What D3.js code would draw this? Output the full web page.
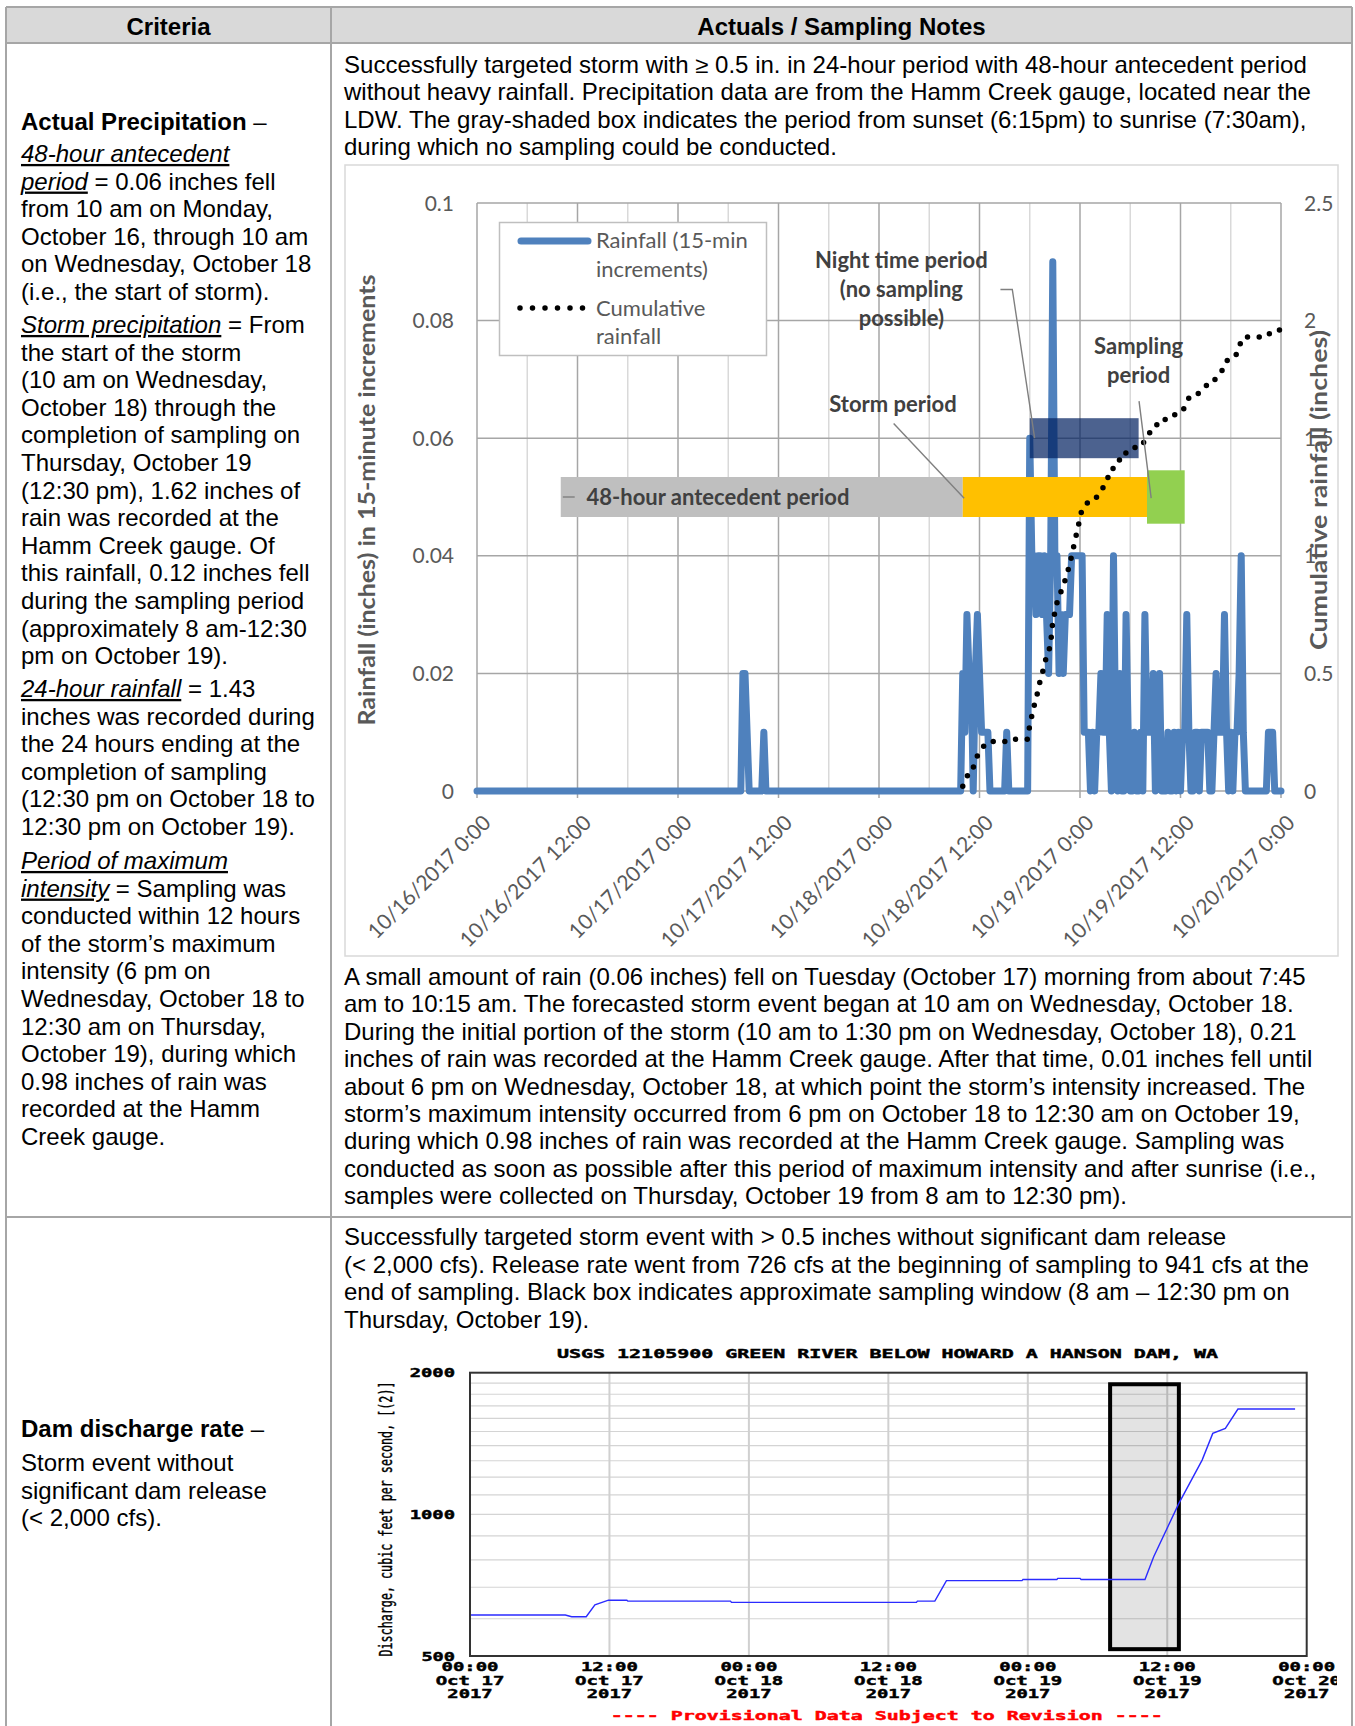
<!DOCTYPE html>
<html>
<head>
<meta charset="utf-8">
<script src="https://cdn.jsdelivr.net/npm/d3@7"></script>
<style>
  html, body { margin: 0; padding: 0; background: #fff; }
  svg { display: block; }
  text { white-space: pre; }
</style>
</head>
<body>
<svg id="page" width="1355" height="1726"></svg>
<script>
// ---------------- Rainfall chart (Hamm Creek gauge) ----------------
const rainXTickLabels = ["10/16/2017 0:00", "10/16/2017 12:00", "10/17/2017 0:00", "10/17/2017 12:00",
  "10/18/2017 0:00", "10/18/2017 12:00", "10/19/2017 0:00", "10/19/2017 12:00", "10/20/2017 0:00"];
const rainLeftTicks = [0, 0.02, 0.04, 0.06, 0.08, 0.1];
const rainLeftLabels = ["0", "0.02", "0.04", "0.06", "0.08", "0.1"];
const cumRightTicks = [0, 0.5, 1, 1.5, 2, 2.5];
const cumRightLabels = ["0", "0.5", "1", "1.5", "2", "2.5"];

// 15-minute rainfall totals (inches); the gauge reads 0 outside these windows
const tuesdayStart = "2017-10-17T07:30";
const tuesdayRain = [0, 0.02, 0.02, 0.01, 0, 0, 0, 0, 0, 0, 0, 0.01, 0];

const stormStart = "2017-10-18T09:45";
const stormRain = [
  0,
  0.02, 0.01, 0.03, 0.02,   // 10/18 10:00
  0.02, 0, 0.02, 0.03,      // 11:00
  0.02, 0.01, 0.01, 0.01,   // 12:00
  0.01, 0, 0, 0,            // 13:00
  0, 0, 0, 0,               // 14:00
  0, 0.01, 0, 0,            // 15:00
  0, 0, 0, 0,               // 16:00
  0, 0, 0, 0,               // 17:00
  0.06, 0.04, 0.04, 0.03,   // 18:00
  0.04, 0.04, 0.03, 0.04,   // 19:00
  0.03, 0.02, 0.04, 0.09,   // 20:00
  0.04, 0.04, 0.02, 0.03,   // 21:00
  0.02, 0.03, 0.03, 0.03,   // 22:00
  0.04, 0.04, 0.04, 0.04,   // 23:00
  0.04, 0.04, 0.01, 0.01,   // 10/19 0:00
  0.01, 0, 0.01, 0,         // 1:00
  0.01, 0.01, 0.02, 0.01,   // 2:00
  0.01, 0.03, 0.01, 0,      // 3:00
  0.04, 0.01, 0, 0.02,      // 4:00
  0, 0, 0.03, 0.01,         // 5:00
  0, 0, 0.01, 0,            // 6:00
  0, 0.01, 0, 0.03,         // 7:00
  0.01, 0.01, 0.01, 0.02,   // 8:00
  0, 0.01, 0.02, 0,         // 9:00
  0, 0, 0.01, 0,            // 10:00
  0, 0.01, 0, 0.01,         // 11:00
  0, 0.01, 0.01, 0.03,      // 12:00
  0.01, 0, 0, 0.01,         // 13:00
  0.01, 0, 0.01, 0.01,      // 14:00
  0.01, 0.01, 0, 0,         // 15:00
  0.01, 0.02, 0.01, 0.01,   // 16:00
  0.01, 0.03, 0.01, 0,      // 17:00
  0.01, 0, 0.01, 0.01,      // 18:00
  0.02, 0.04, 0.01, 0,      // 19:00
  0, 0, 0, 0,               // 20:00
  0, 0, 0, 0,               // 21:00
  0, 0, 0.01, 0.01,         // 22:00
  0.01, 0, 0, 0,            // 23:00
  0                         // 10/20 0:00
];
// cumulative storm rainfall is counted from the start of the storm
const cumulativeFrom = "2017-10-18T10:00";

// shaded periods
const periodNames = ["48-hour antecedent period", "Storm period", "Sampling period", "Night time period"];
const periodStart = ["2017-10-16T10:00", "2017-10-18T10:00", "2017-10-19T08:00", "2017-10-18T18:00"];
const periodEnd = ["2017-10-18T10:00", "2017-10-19T08:00", "2017-10-19T12:30", "2017-10-19T07:00"];
const periodLevel = [0.05, 0.05, 0.05, 0.06];

// ---------------- Dam discharge chart (USGS 12105900) ----------------
const usgsTitle = "USGS 12105900 GREEN RIVER BELOW HOWARD A HANSON DAM, WA";
const usgsYTitle = "Discharge, cubic feet per second, [(2)]";
const usgsFooter = "---- Provisional Data Subject to Revision ----";
const usgsYTicks = [500, 1000, 2000];
const usgsYLabels = ["500", "1000", "2000"];
const usgsXTicks = ["2017-10-17T00:00", "2017-10-17T12:00", "2017-10-18T00:00", "2017-10-18T12:00",
  "2017-10-19T00:00", "2017-10-19T12:00", "2017-10-20T00:00"];
const usgsXLabels = [["00:00", "Oct 17", "2017"], ["12:00", "Oct 17", "2017"], ["00:00", "Oct 18", "2017"],
  ["12:00", "Oct 18", "2017"], ["00:00", "Oct 19", "2017"], ["12:00", "Oct 19", "2017"], ["00:00", "Oct 20", "2017"]];
const usgsGridCfs = [600, 700, 800, 900, 1000, 1100, 1200, 1300, 1400, 1500, 1600, 1700, 1800, 1900];
const flowTimes = ["2017-10-17T00:00", "2017-10-17T08:12", "2017-10-17T08:45", "2017-10-17T10:00",
  "2017-10-17T10:45", "2017-10-17T11:55", "2017-10-17T13:30", "2017-10-17T13:35", "2017-10-17T22:25",
  "2017-10-17T22:30", "2017-10-18T14:25", "2017-10-18T14:30", "2017-10-18T16:00", "2017-10-18T17:00",
  "2017-10-18T23:30", "2017-10-18T23:35", "2017-10-19T02:30", "2017-10-19T02:35", "2017-10-19T04:30",
  "2017-10-19T04:35", "2017-10-19T10:05", "2017-10-19T10:50", "2017-10-19T13:00", "2017-10-19T15:00",
  "2017-10-19T15:55", "2017-10-19T17:00", "2017-10-19T18:05", "2017-10-19T23:00"];
const flowCfs = [611, 611, 606, 606, 642, 657, 657, 654, 654, 650, 650, 654, 654, 723, 723, 727, 727,
  731, 731, 727, 727, 813, 1055, 1304, 1486, 1523, 1674, 1674];
const samplingWindow = ["2017-10-19T07:05", "2017-10-19T13:00"];
const samplingWindowCfs = [517, 1890];

// ---------------- Table text ----------------
const criteriaRain = [
  ["*Actual Precipitation* –"],
  ["_48-hour antecedent_", "_period_ = 0.06 inches fell", "from 10 am on Monday,", "October 16, through 10 am",
   "on Wednesday, October 18", "(i.e., the start of storm)."],
  ["_Storm precipitation_ = From", "the start of the storm", "(10 am on Wednesday,", "October 18) through the",
   "completion of sampling on", "Thursday, October 19", "(12:30 pm), 1.62 inches of", "rain was recorded at the",
   "Hamm Creek gauge. Of", "this rainfall, 0.12 inches fell", "during the sampling period",
   "(approximately 8 am-12:30", "pm on October 19)."],
  ["_24-hour rainfall_ = 1.43", "inches was recorded during", "the 24 hours ending at the",
   "completion of sampling", "(12:30 pm on October 18 to", "12:30 pm on October 19)."],
  ["_Period of maximum_", "_intensity_ = Sampling was", "conducted within 12 hours", "of the storm’s maximum",
   "intensity (6 pm on", "Wednesday, October 18 to", "12:30 am on Thursday,", "October 19), during which",
   "0.98 inches of rain was", "recorded at the Hamm", "Creek gauge."]
];
const criteriaRainTop = [130, 162, 333, 697, 869];
const criteriaDam = [["*Dam discharge rate* –"], ["Storm event without", "significant dam release", "(< 2,000 cfs)."]];
const criteriaDamTop = [1437, 1471];

const notesRainTop = ["Successfully targeted storm with ≥ 0.5 in. in 24-hour period with 48-hour antecedent period",
  "without heavy rainfall. Precipitation data are from the Hamm Creek gauge, located near the",
  "LDW. The gray-shaded box indicates the period from sunset (6:15pm) to sunrise (7:30am),",
  "during which no sampling could be conducted."];
const notesRainBottom = ["A small amount of rain (0.06 inches) fell on Tuesday (October 17) morning from about 7:45",
  "am to 10:15 am. The forecasted storm event began at 10 am on Wednesday, October 18.",
  "During the initial portion of the storm (10 am to 1:30 pm on Wednesday, October 18), 0.21",
  "inches of rain was recorded at the Hamm Creek gauge. After that time, 0.01 inches fell until",
  "about 6 pm on Wednesday, October 18, at which point the storm’s intensity increased. The",
  "storm’s maximum intensity occurred from 6 pm on October 18 to 12:30 am on October 19,",
  "during which 0.98 inches of rain was recorded at the Hamm Creek gauge. Sampling was",
  "conducted as soon as possible after this period of maximum intensity and after sunrise (i.e.,",
  "samples were collected on Thursday, October 19 from 8 am to 12:30 pm)."];
const notesDam = ["Successfully targeted storm event with > 0.5 inches without significant dam release",
  "(< 2,000 cfs). Release rate went from 726 cfs at the beginning of sampling to 941 cfs at the",
  "end of sampling. Black box indicates approximate sampling window (8 am – 12:30 pm on",
  "Thursday, October 19)."];

// =====================================================================
const svg = d3.select("#page");
const parseT = d3.timeParse("%Y-%m-%dT%H:%M");
const FONT_T = "'Liberation Sans', Arial, sans-serif";
const FONT_C = "Lato, 'Open Sans', sans-serif";
const FONT_U = "'DejaVu Sans Mono', 'Liberation Mono', monospace";
const SX = 1.045;      // table text is set slightly wide
const LH = 27.6;       // table line height

svg.append("rect").attr("width", 1355).attr("height", 1726).attr("fill", "#fff");

// ---------- table frame ----------
const table = svg.append("g");
table.append("rect").attr("x", 6).attr("y", 7).attr("width", 1346).attr("height", 36).attr("fill", "#d9d9d9");
const gridStroke = "#a6a6a6";
[[6, 7, 1352, 7], [6, 43, 1352, 43], [6, 1217, 1352, 1217],
 [6, 7, 6, 1726], [331, 7, 331, 1726], [1352, 7, 1352, 1726]].forEach(l =>
  table.append("line").attr("x1", l[0]).attr("y1", l[1]).attr("x2", l[2]).attr("y2", l[3])
    .attr("stroke", gridStroke).attr("stroke-width", 2));

function richLine(g, str, x, y, anchor) {
  const t = g.append("text")
    .attr("transform", `translate(${x},${y}) scale(${SX},1)`)
    .attr("font-family", FONT_T).attr("font-size", 23).attr("fill", "#000");
  if (anchor) t.attr("text-anchor", anchor);
  str.split(/(\*[^*]+\*|_[^_]+_)/).filter(s => s.length).forEach(p => {
    const ts = t.append("tspan");
    if (p[0] === "*") ts.text(p.slice(1, -1)).attr("font-weight", "bold");
    else if (p[0] === "_") ts.text(p.slice(1, -1)).attr("font-style", "italic").attr("text-decoration", "underline");
    else ts.text(p);
  });
}
function paragraphs(g, paras, tops, x) {
  paras.forEach((lines, i) => lines.forEach((s, j) => richLine(g, s, x, tops[i] + j * LH)));
}

richLine(table, "*Criteria*", 168.5, 35, "middle");
richLine(table, "*Actuals / Sampling Notes*", 841.5, 35, "middle");
paragraphs(table, criteriaRain, criteriaRainTop, 21);
paragraphs(table, criteriaDam, criteriaDamTop, 21);
notesRainTop.forEach((s, j) => richLine(table, s, 344, 72.5 + j * 27.5));
notesRainBottom.forEach((s, j) => richLine(table, s, 344, 985 + j * 27.4));
notesDam.forEach((s, j) => richLine(table, s, 344, 1245 + j * 27.5));

// ---------- rainfall chart ----------
const c1 = svg.append("g");
c1.append("rect").attr("x", 345).attr("y", 165).attr("width", 993).attr("height", 791)
  .attr("fill", "#fff").attr("stroke", "#d9d9d9").attr("stroke-width", 1.5);

const t0 = parseT("2017-10-16T00:00"), t1 = parseT("2017-10-20T00:00");
const x1 = d3.scaleTime().domain([t0, t1]).range([477, 1281]);
const yRain = d3.scaleLinear().domain([0, 0.1]).range([791, 203]);
const yCum = d3.scaleLinear().domain([0, 2.5]).range([791, 203]);
const axisGrey = "#595959";

// gridlines: 6-hour minor, 12-hour major, 0.02 in horizontal
const sixHours = d3.timeHour.every(6).range(t0, d3.timeMinute.offset(t1, 1));
c1.append("g").selectAll("line").data(sixHours.filter(d => d.getHours() % 12 !== 0)).join("line")
  .attr("x1", d => x1(d)).attr("x2", d => x1(d)).attr("y1", 203).attr("y2", 791)
  .attr("stroke", "#d9d9d9").attr("stroke-width", 1.5);
c1.append("g").selectAll("line").data(sixHours.filter(d => d.getHours() % 12 === 0)).join("line")
  .attr("x1", d => x1(d)).attr("x2", d => x1(d)).attr("y1", 203).attr("y2", 798)
  .attr("stroke", "#a6a6a6").attr("stroke-width", 1.5);
c1.append("g").selectAll("line").data(rainLeftTicks).join("line")
  .attr("x1", 477).attr("x2", 1281).attr("y1", d => yRain(d)).attr("y2", d => yRain(d))
  .attr("stroke", "#a6a6a6").attr("stroke-width", 1.5);

// tick labels
c1.append("g").selectAll("text").data(rainLeftTicks).join("text")
  .attr("x", 454).attr("y", d => yRain(d)).attr("dy", "0.36em").attr("text-anchor", "end")
  .attr("font-family", FONT_C).attr("font-size", 21).attr("fill", axisGrey)
  .text((d, i) => rainLeftLabels[i]);
c1.append("g").selectAll("text").data(cumRightTicks).join("text")
  .attr("x", 1304).attr("y", d => yCum(d)).attr("dy", "0.36em")
  .attr("font-family", FONT_C).attr("font-size", 21).attr("fill", axisGrey)
  .text((d, i) => cumRightLabels[i]);
const twelveHours = d3.timeHour.every(12).range(t0, d3.timeMinute.offset(t1, 1));
c1.append("g").selectAll("text").data(twelveHours).join("text")
  .attr("transform", d => `translate(${x1(d) + 10},${819}) rotate(-45)`)
  .attr("text-anchor", "end").attr("dy", "0.35em")
  .attr("font-family", FONT_C).attr("font-size", 21).attr("fill", axisGrey)
  .text((d, i) => rainXTickLabels[i]);

// axis titles
c1.append("text").attr("transform", `translate(367,500) rotate(-90)`).attr("text-anchor", "middle")
  .attr("dy", "0.35em").attr("font-family", FONT_C).attr("font-size", 23).attr("font-weight", "bold")
  .attr("lengthAdjust", "spacingAndGlyphs").attr("textLength", 451)
  .attr("fill", axisGrey).text("Rainfall (inches) in 15-minute increments");
c1.append("text").attr("transform", `translate(1319,490) rotate(-90)`).attr("text-anchor", "middle")
  .attr("dy", "0.35em").attr("font-family", FONT_C).attr("font-size", 23).attr("font-weight", "bold")
  .attr("lengthAdjust", "spacingAndGlyphs").attr("textLength", 320)
  .attr("fill", axisGrey).text("Cumulative rainfall (inches)");

// rainfall series on the full 15-minute grid
const windows = [[tuesdayStart, tuesdayRain], [stormStart, stormRain]].map(([s, vals]) => {
  const ts = parseT(s);
  return vals.map((v, i) => ({ t: d3.timeMinute.offset(ts, 15 * i), v }));
}).flat();
const byTime = new Map(windows.map(d => [+d.t, d.v]));
const grid15 = d3.timeMinute.every(15).range(t0, d3.timeMinute.offset(t1, 1));
const rain = grid15.map(t => ({ t, v: byTime.has(+t) ? byTime.get(+t) : 0 }));

const cumStart = parseT(cumulativeFrom);
const stormPart = rain.filter(d => d.t >= cumStart);
const cumVals = d3.cumsum(stormPart, d => d.v);
const cumulative = stormPart.map((d, i) => ({ t: d.t, v: cumVals[i] }));

const rainLine = d3.line().x(d => x1(d.t)).y(d => yRain(d.v));
c1.append("path").datum(rain).attr("d", rainLine).attr("fill", "none")
  .attr("stroke", "#4f81bd").attr("stroke-width", 7).attr("stroke-linejoin", "round").attr("stroke-linecap", "round");

// shaded periods
const bandHalf = [20, 20, 26.7, 20];
const bandFill = ["#bfbfbf", "#ffc000", "#92d050", "#002060"];
const bandOpacity = [1, 1, 1, 0.7];
periodNames.forEach((name, i) => {
  const xa = x1(parseT(periodStart[i])), xb = x1(parseT(periodEnd[i]));
  const yc = yRain(periodLevel[i]);
  c1.append("rect").attr("x", xa).attr("y", yc - bandHalf[i]).attr("width", xb - xa).attr("height", 2 * bandHalf[i])
    .attr("fill", bandFill[i]).attr("fill-opacity", bandOpacity[i]);
});

// cumulative rainfall (round-dot line)
c1.append("path").datum(cumulative)
  .attr("d", d3.line().x(d => x1(d.t)).y(d => yCum(d.v)))
  .attr("fill", "none").attr("stroke", "#000").attr("stroke-width", 5.5)
  .attr("stroke-dasharray", "0 11.7").attr("stroke-linecap", "round");

// period labels and leader lines
const annoFont = g => g.attr("font-family", FONT_C).attr("font-size", 22).attr("font-weight", "bold").attr("fill", "#404040");
const leader = pts => c1.append("path")
  .attr("d", d3.line().x(p => x1(parseT(p[0]))).y(p => yRain(p[1]))(pts))
  .attr("fill", "none").attr("stroke", "#7f7f7f").attr("stroke-width", 1.4);

leader([["2017-10-16T10:15", 0.05], ["2017-10-16T11:40", 0.05]]);
c1.append("text").attr("x", x1(parseT("2017-10-16T13:05"))).attr("y", yRain(periodLevel[0])).attr("dy", "0.36em")
  .call(annoFont).text(periodNames[0]);

c1.append("text").attr("x", x1(parseT("2017-10-18T01:40"))).attr("y", yRain(0.0645)).attr("text-anchor", "middle")
  .call(annoFont).text(periodNames[1]);
leader([["2017-10-18T01:45", 0.0625], ["2017-10-18T10:10", 0.0498]]);

[["Sampling", 0], ["period", 1]].forEach(([s, k]) =>
  c1.append("text").attr("x", x1(parseT("2017-10-19T07:00"))).attr("y", yRain(0.0744) + k * 29.4)
    .attr("text-anchor", "middle").call(annoFont).text(s));
leader([["2017-10-19T07:03", 0.0663], ["2017-10-19T08:30", 0.0498]]);

[["Night time period", 0], ["(no sampling", 1], ["possible)", 2]].forEach(([s, k]) =>
  c1.append("text").attr("x", x1(parseT("2017-10-18T02:40"))).attr("y", yRain(0.089) + k * 29.3)
    .attr("text-anchor", "middle").call(annoFont).text(s));
leader([["2017-10-18T14:30", 0.0853], ["2017-10-18T15:55", 0.0853], ["2017-10-18T18:35", 0.060]]);

// legend
const lg = c1.append("g");
lg.append("rect").attr("x", 499.5).attr("y", 222.5).attr("width", 267).attr("height", 133)
  .attr("fill", "#fff").attr("stroke", "#bfbfbf").attr("stroke-width", 1.5);
lg.append("line").attr("x1", 521).attr("x2", 588).attr("y1", 241).attr("y2", 241)
  .attr("stroke", "#4f81bd").attr("stroke-width", 7).attr("stroke-linecap", "round");
lg.append("line").attr("x1", 520).attr("x2", 583).attr("y1", 308).attr("y2", 308)
  .attr("stroke", "#000").attr("stroke-width", 5.5).attr("stroke-dasharray", "0 12.5").attr("stroke-linecap", "round");
[["Rainfall (15-min", 248], ["increments)", 277], ["Cumulative", 315.5], ["rainfall", 344]].forEach(([s, y]) =>
  lg.append("text").attr("x", 596).attr("y", y).attr("font-family", FONT_C).attr("font-size", 22)
    .attr("fill", axisGrey).text(s));

// ---------- dam discharge chart ----------
svg.append("defs").append("clipPath").attr("id", "usgsClip")
  .append("rect").attr("x", 335).attr("y", 1320).attr("width", 1002).attr("height", 406);
const c2 = svg.append("g").attr("clip-path", "url(#usgsClip)");
const u0 = parseT("2017-10-17T00:00"), u1 = parseT("2017-10-20T00:00");
const x2 = d3.scaleTime().domain([u0, u1]).range([470, 1306.7]);
const y2 = d3.scaleLog().domain([500, 2000]).range([1656, 1372.7]);
const usgsFont = (sel, size) => sel.attr("font-family", FONT_U).attr("font-weight", "bold").attr("font-size", size)
  .attr("lengthAdjust", "spacingAndGlyphs").attr("stroke-width", 0.45);
const CH = 11.7;

c2.append("g").selectAll("line").data(usgsGridCfs).join("line")
  .attr("x1", 470).attr("x2", 1306.7).attr("y1", d => y2(d)).attr("y2", d => y2(d))
  .attr("stroke", "#d4d4d4").attr("stroke-width", 1.2);
c2.append("g").selectAll("line").data(usgsXTicks.slice(1, -1)).join("line")
  .attr("x1", d => x2(parseT(d))).attr("x2", d => x2(parseT(d))).attr("y1", 1372.7).attr("y2", 1656)
  .attr("stroke", "#d0d0d0").attr("stroke-width", 2);

// sampling window box
const sx0 = x2(parseT(samplingWindow[0])), sx1 = x2(parseT(samplingWindow[1]));
c2.append("rect").attr("x", sx0).attr("y", y2(samplingWindowCfs[1])).attr("width", sx1 - sx0)
  .attr("height", y2(samplingWindowCfs[0]) - y2(samplingWindowCfs[1]))
  .attr("fill", "#000").attr("fill-opacity", 0.11).attr("stroke", "#000").attr("stroke-width", 4);

const flow = flowTimes.map((t, i) => ({ t: parseT(t), v: flowCfs[i] }));
c2.append("path").datum(flow).attr("d", d3.line().x(d => x2(d.t)).y(d => y2(d.v)))
  .attr("fill", "none").attr("stroke", "#2b2bff").attr("stroke-width", 1.4);

c2.append("rect").attr("x", 470).attr("y", 1372.7).attr("width", 836.7).attr("height", 283.3)
  .attr("fill", "none").attr("stroke", "#333").attr("stroke-width", 2);

c2.append("text").attr("x", 887.5).attr("y", 1358).attr("text-anchor", "middle")
  .call(usgsFont, 12.5).attr("stroke", "#000").attr("textLength", 661).text(usgsTitle);
c2.append("g").selectAll("text").data(usgsYTicks).join("text")
  .attr("x", 455).attr("y", d => y2(d) + 4.5).attr("text-anchor", "end")
  .call(usgsFont, 12.5).attr("stroke", "#000").attr("textLength", (d, i) => usgsYLabels[i].length * CH - 1.5)
  .text((d, i) => usgsYLabels[i]);
usgsXTicks.forEach((t, i) => {
  usgsXLabels[i].forEach((s, k) => {
    c2.append("text").attr("x", x2(parseT(t))).attr("y", 1671 + k * 13.5).attr("text-anchor", "middle")
      .call(usgsFont, 12.5).attr("stroke", "#000").attr("textLength", s.length * CH - 1.5).text(s);
  });
});
c2.append("text").attr("transform", "translate(392,1519) rotate(-90)").attr("text-anchor", "middle")
  .attr("font-family", FONT_U).attr("font-size", 18).attr("lengthAdjust", "spacingAndGlyphs")
  .attr("stroke", "#000").attr("stroke-width", 0.4)
  .attr("textLength", 275).text(usgsYTitle);
c2.append("text").attr("x", 886.7).attr("y", 1720).attr("text-anchor", "middle")
  .call(usgsFont, 12.5).attr("textLength", 552).attr("fill", "#ff0000").attr("stroke", "#ff0000").text(usgsFooter);
</script>
</body>
</html>
